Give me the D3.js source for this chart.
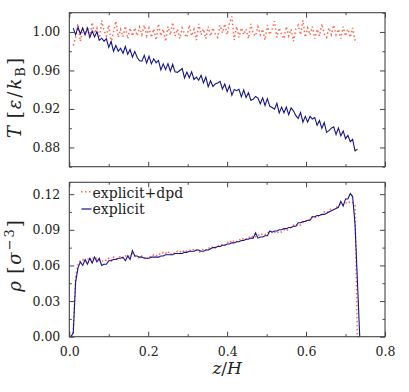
<!DOCTYPE html>
<html>
<head>
<meta charset="utf-8">
<script src="https://cdn.jsdelivr.net/npm/d3@7"></script>
<style>
  body { margin: 0; background: #fff; }
  text { font-family: "DejaVu Serif", serif; fill: #222; }
</style>
</head>
<body>
<div id="chart"></div>
<script>
var width = 409,
	height = 392,
	left = 69.3, right = 385,
	top1 = 12.7, bottom1 = 166.7,
	top2 = 182.3, bottom2 = 336.7;

// bins in z/H (histogram slabs)
var binStartT = 0.010, binStartR = 0.004, binWidth = 0.006;

// temperature profile, explicit + dpd thermostat
var tempDpd = [
	0.9860, 0.9944, 1.0084, 0.9902, 1.0028, 0.9972, 1.0056, 0.9930, 1.0098, 0.9986,
	1.0042, 0.9916, 1.0120, 1.0014, 0.9958, 1.0070, 0.9888, 1.0000, 1.0112, 0.9944,
	1.0028, 0.9950, 1.0060, 0.9930, 1.0040, 0.9958, 1.0042, 0.9960, 1.0050, 0.9972,
	1.0070, 0.9960, 1.0042, 0.9944, 1.0030, 0.9916, 1.0084, 0.9960, 1.0028, 0.9902,
	1.0056, 0.9970, 1.0098, 0.9958, 1.0030, 0.9930, 1.0042, 0.9980, 0.9944, 1.0070,
	0.9960, 1.0028, 0.9916, 1.0084, 0.9970, 1.0030, 0.9930, 1.0056, 0.9958, 1.0042,
	0.9980, 0.9944, 1.0070, 0.9990, 1.0084, 0.9972, 1.0098, 1.0160, 0.9916, 1.0056,
	0.9944, 1.0042, 0.9972, 1.0030, 0.9930, 1.0084, 0.9980, 0.9958, 1.0056, 0.9970,
	1.0028, 0.9916, 1.0070, 0.9972, 1.0030, 1.0112, 0.9944, 1.0042, 0.9970, 0.9930,
	1.0056, 0.9958, 1.0028, 0.9902, 1.0030, 1.0070, 0.9972, 1.0120, 0.9944, 1.0042,
	0.9970, 1.0056, 0.9930, 1.0028, 0.9958, 1.0084, 0.9980, 0.9944, 1.0042, 0.9972,
	1.0070, 0.9970, 1.0028, 0.9930, 1.0056, 0.9958, 1.0030, 0.9944, 1.0042, 0.9916,
	0.9890
];

// temperature profile, explicit only
var tempExp = [
	1.0040, 0.9970, 1.0050, 0.9980, 1.0040, 0.9970, 1.0040, 0.9945, 1.0010, 0.9949,
	1.0001, 0.9913, 0.9935, 0.9905, 0.9929, 0.9840, 0.9900, 0.9800, 0.9859, 0.9799,
	0.9830, 0.9779, 0.9849, 0.9768, 0.9818, 0.9738, 0.9798, 0.9735, 0.9700, 0.9697,
	0.9757, 0.9677, 0.9748, 0.9670, 0.9721, 0.9680, 0.9704, 0.9606, 0.9668, 0.9609,
	0.9671, 0.9592, 0.9664, 0.9586, 0.9580, 0.9600, 0.9620, 0.9522, 0.9583, 0.9524,
	0.9585, 0.9506, 0.9530, 0.9498, 0.9549, 0.9470, 0.9531, 0.9432, 0.9493, 0.9434,
	0.9460, 0.9470, 0.9487, 0.9408, 0.9459, 0.9380, 0.9441, 0.9342, 0.9403, 0.9390,
	0.9405, 0.9326, 0.9397, 0.9318, 0.9369, 0.9290, 0.9300, 0.9330, 0.9313, 0.9254,
	0.9315, 0.9236, 0.9307, 0.9227, 0.9215, 0.9198, 0.9259, 0.9159, 0.9219, 0.9160,
	0.9220, 0.9141, 0.9211, 0.9180, 0.9130, 0.9102, 0.9163, 0.9063, 0.9123, 0.9064,
	0.9123, 0.9095, 0.9111, 0.9030, 0.9080, 0.8999, 0.9058, 0.8957, 0.8975, 0.9000,
	0.9015, 0.8934, 0.9003, 0.8922, 0.8972, 0.8891, 0.8925, 0.8860, 0.8885, 0.8765,
	0.8782
];

// density profile, explicit + dpd
var rhoDpd = [
	0.000, 0.004, 0.050, 0.061, 0.064, 0.065, 0.063, 0.066, 0.064, 0.067,
	0.065, 0.066, 0.064, 0.063, 0.065, 0.064, 0.066, 0.064, 0.067, 0.065,
	0.066, 0.068, 0.066, 0.068, 0.067, 0.069, 0.070, 0.068, 0.067, 0.066,
	0.068, 0.067, 0.065, 0.068, 0.067, 0.069, 0.068, 0.070, 0.069, 0.071,
	0.070, 0.072, 0.069, 0.071, 0.070, 0.072, 0.071, 0.073, 0.071, 0.072,
	0.073, 0.072, 0.074, 0.073, 0.071, 0.072, 0.074, 0.073, 0.075, 0.074,
	0.076, 0.075, 0.077, 0.076, 0.078, 0.077, 0.079, 0.081, 0.079, 0.081,
	0.080, 0.082, 0.081, 0.083, 0.082, 0.084, 0.083, 0.085, 0.084, 0.086,
	0.085, 0.087, 0.086, 0.088, 0.087, 0.089, 0.088, 0.087, 0.089, 0.088,
	0.090, 0.089, 0.091, 0.092, 0.094, 0.093, 0.095, 0.094, 0.096, 0.098,
	0.097, 0.099, 0.101, 0.100, 0.102, 0.101, 0.103, 0.105, 0.104, 0.106,
	0.108, 0.107, 0.109, 0.110, 0.112, 0.111, 0.113, 0.112, 0.114, 0.113,
	0.111, 0.000, 0.000
];

// density profile, explicit only
var rhoExp = [
	0.000, 0.003, 0.046, 0.058, 0.063, 0.060, 0.065, 0.061, 0.066, 0.062,
	0.067, 0.063, 0.066, 0.060, 0.061, 0.061, 0.064, 0.064, 0.065, 0.065,
	0.066, 0.066, 0.067, 0.064, 0.068, 0.065, 0.0725, 0.068, 0.068, 0.067,
	0.067, 0.066, 0.066, 0.066, 0.067, 0.067, 0.067, 0.067, 0.068, 0.068,
	0.069, 0.069, 0.069, 0.069, 0.070, 0.070, 0.070, 0.070, 0.071, 0.071,
	0.072, 0.072, 0.072, 0.073, 0.073, 0.072, 0.072, 0.073, 0.073, 0.074,
	0.075, 0.075, 0.076, 0.076, 0.077, 0.077, 0.078, 0.078, 0.079, 0.079,
	0.080, 0.080, 0.081, 0.081, 0.082, 0.082, 0.083, 0.083, 0.0875, 0.083,
	0.084, 0.084, 0.085, 0.085, 0.089, 0.088, 0.089, 0.089, 0.090, 0.090,
	0.091, 0.091, 0.092, 0.092, 0.093, 0.093, 0.096, 0.096, 0.097, 0.097,
	0.098, 0.098, 0.101, 0.101, 0.102, 0.102, 0.103, 0.103, 0.104, 0.105,
	0.106, 0.107, 0.108, 0.109, 0.114, 0.110, 0.116, 0.116, 0.1205, 0.118,
	0.095, 0.048, 0.000
];

var xTicks = [0, 0.2, 0.4, 0.6, 0.8],
	xMinor = [0.1, 0.3, 0.5, 0.7],
	tTicks = [0.88, 0.92, 0.96, 1.00],
	tMinor = [0.86, 0.90, 0.94, 0.98, 1.02],
	rTicks = [0, 0.03, 0.06, 0.09, 0.12],
	rMinor = [0.015, 0.045, 0.075, 0.105];

var legendLabels = ["explicit+dpd", "explicit"];

var red = "#ff6650", blue = "#14148c";

var svg = d3.select("#chart").append("svg")
	.attr("width", width)
	.attr("height", height)
	.style("background", "#fff");

var x = d3.scaleLinear().domain([0, 0.8]).range([left, right]),
	yT = d3.scaleLinear().domain([0.86, 1.02]).range([bottom1, top1]),
	yR = d3.scaleLinear().domain([0, 0.13]).range([bottom2, top2]);

function withZ(vals, start) {
	return vals.map(function(v, i){ return [start + binWidth * i, v]; });
}

function drawFrame(y, top, bottom, majY, minY, fmtY, showX) {
	var axes = [
		[d3.axisBottom(x), bottom, showX],
		[d3.axisTop(x), top, false]
	];
	axes.forEach(function(a){
		var major = svg.append("g").attr("transform", "translate(0," + a[1] + ")")
			.call(a[0].tickValues(xTicks).tickSizeInner(-5).tickSizeOuter(0).tickPadding(10)
				.tickFormat(a[2] ? d3.format(".1f") : ""));
		var minor = svg.append("g").attr("transform", "translate(0," + a[1] + ")")
			.call(a[0].tickValues(xMinor).tickSizeInner(-2.5).tickFormat(""));
		[major, minor].forEach(function(s){ s.select(".domain").remove(); });
	});
	var yAxes = [
		[d3.axisLeft(y), left, true],
		[d3.axisRight(y), right, false]
	];
	yAxes.forEach(function(a){
		var major = svg.append("g").attr("transform", "translate(" + a[1] + ",0)")
			.call(a[0].tickValues(majY).tickSizeInner(-5).tickSizeOuter(0).tickPadding(9)
				.tickFormat(a[2] ? fmtY : ""));
		var minor = svg.append("g").attr("transform", "translate(" + a[1] + ",0)")
			.call(a[0].tickValues(minY).tickSizeInner(-2.5).tickFormat(""));
		[major, minor].forEach(function(s){ s.select(".domain").remove(); });
	});
	svg.append("rect")
		.attr("x", left).attr("y", top)
		.attr("width", right - left).attr("height", bottom - top)
		.attr("fill", "none").attr("stroke", "#444").attr("stroke-width", 1.1);
}

var line = function(y){
	return d3.line().x(function(d){ return x(d[0]); }).y(function(d){ return y(d[1]); });
};

// top panel curves
svg.append("path")
	.attr("d", line(yT)(withZ(tempDpd, binStartT)))
	.attr("fill", "none").attr("stroke", red)
	.attr("stroke-width", 1.5).attr("stroke-dasharray", "1.5 2.5");
svg.append("path")
	.attr("d", line(yT)(withZ(tempExp, binStartT)))
	.attr("fill", "none").attr("stroke", blue).attr("stroke-width", 1.1);

// bottom panel curves
svg.append("path")
	.attr("d", line(yR)(withZ(rhoDpd, binStartR)))
	.attr("fill", "none").attr("stroke", red)
	.attr("stroke-width", 1.5).attr("stroke-dasharray", "1.5 2.5");
svg.append("path")
	.attr("d", line(yR)(withZ(rhoExp, binStartR)))
	.attr("fill", "none").attr("stroke", blue).attr("stroke-width", 1.1);

drawFrame(yT, top1, bottom1, tTicks, tMinor, d3.format(".2f"), false);
drawFrame(yR, top2, bottom2, rTicks, rMinor, d3.format(".2f"), true);

svg.selectAll(".tick line").attr("stroke", "#444");
svg.selectAll(".tick text").style("font-family", "DejaVu Serif").style("font-size", "12.5px").attr("fill", "#222");

// legend
var legend = svg.append("g").attr("class", "legend");
legend.append("line")
	.attr("x1", 81).attr("x2", 92).attr("y1", 191.7).attr("y2", 191.7)
	.attr("stroke", red).attr("stroke-width", 1.5).attr("stroke-dasharray", "1.5 2.5");
legend.append("line")
	.attr("x1", 81.5).attr("x2", 91.5).attr("y1", 209).attr("y2", 209)
	.attr("stroke", blue).attr("stroke-width", 1.2);
legend.selectAll("text.lbl")
	.data(legendLabels).enter()
	.append("text")
	.attr("class", "lbl")
	.attr("x", 92.5)
	.attr("y", function(d, i){ return 197.5 + i * 16.8; })
	.style("font-size", "14px")
	.text(function(d){ return d; });

// axis labels
var tl = svg.append("text")
	.attr("transform", "translate(21,97) rotate(-90)")
	.attr("text-anchor", "middle")
	.style("font-size", "18px")
	.style("letter-spacing", "2px");
tl.append("tspan").style("font-style", "italic").text("T");
tl.append("tspan").text("\u2009[");
tl.append("tspan").style("font-style", "italic").text("ε");
tl.append("tspan").text("/");
tl.append("tspan").style("font-style", "italic").text("k");
tl.append("tspan").attr("dy", 4).style("font-size", "13px").text("B");
tl.append("tspan").attr("dy", -4).text("]");

var rl = svg.append("text")
	.attr("transform", "translate(21,255) rotate(-90)")
	.attr("text-anchor", "middle")
	.style("font-size", "18px")
	.style("letter-spacing", "2px");
rl.append("tspan").style("font-style", "italic").text("ρ");
rl.append("tspan").text("\u2009[");
rl.append("tspan").style("font-style", "italic").text("σ");
rl.append("tspan").attr("dy", -7).style("font-size", "13px").text("−3");
rl.append("tspan").attr("dy", 7).text("]");

var xl = svg.append("text")
	.attr("x", (left + right) / 2)
	.attr("y", 374)
	.attr("text-anchor", "middle")
	.style("font-size", "17px");
xl.append("tspan").style("font-style", "italic").text("z");
xl.append("tspan").text("/");
xl.append("tspan").style("font-style", "italic").text("H");
</script>
</body>
</html>
